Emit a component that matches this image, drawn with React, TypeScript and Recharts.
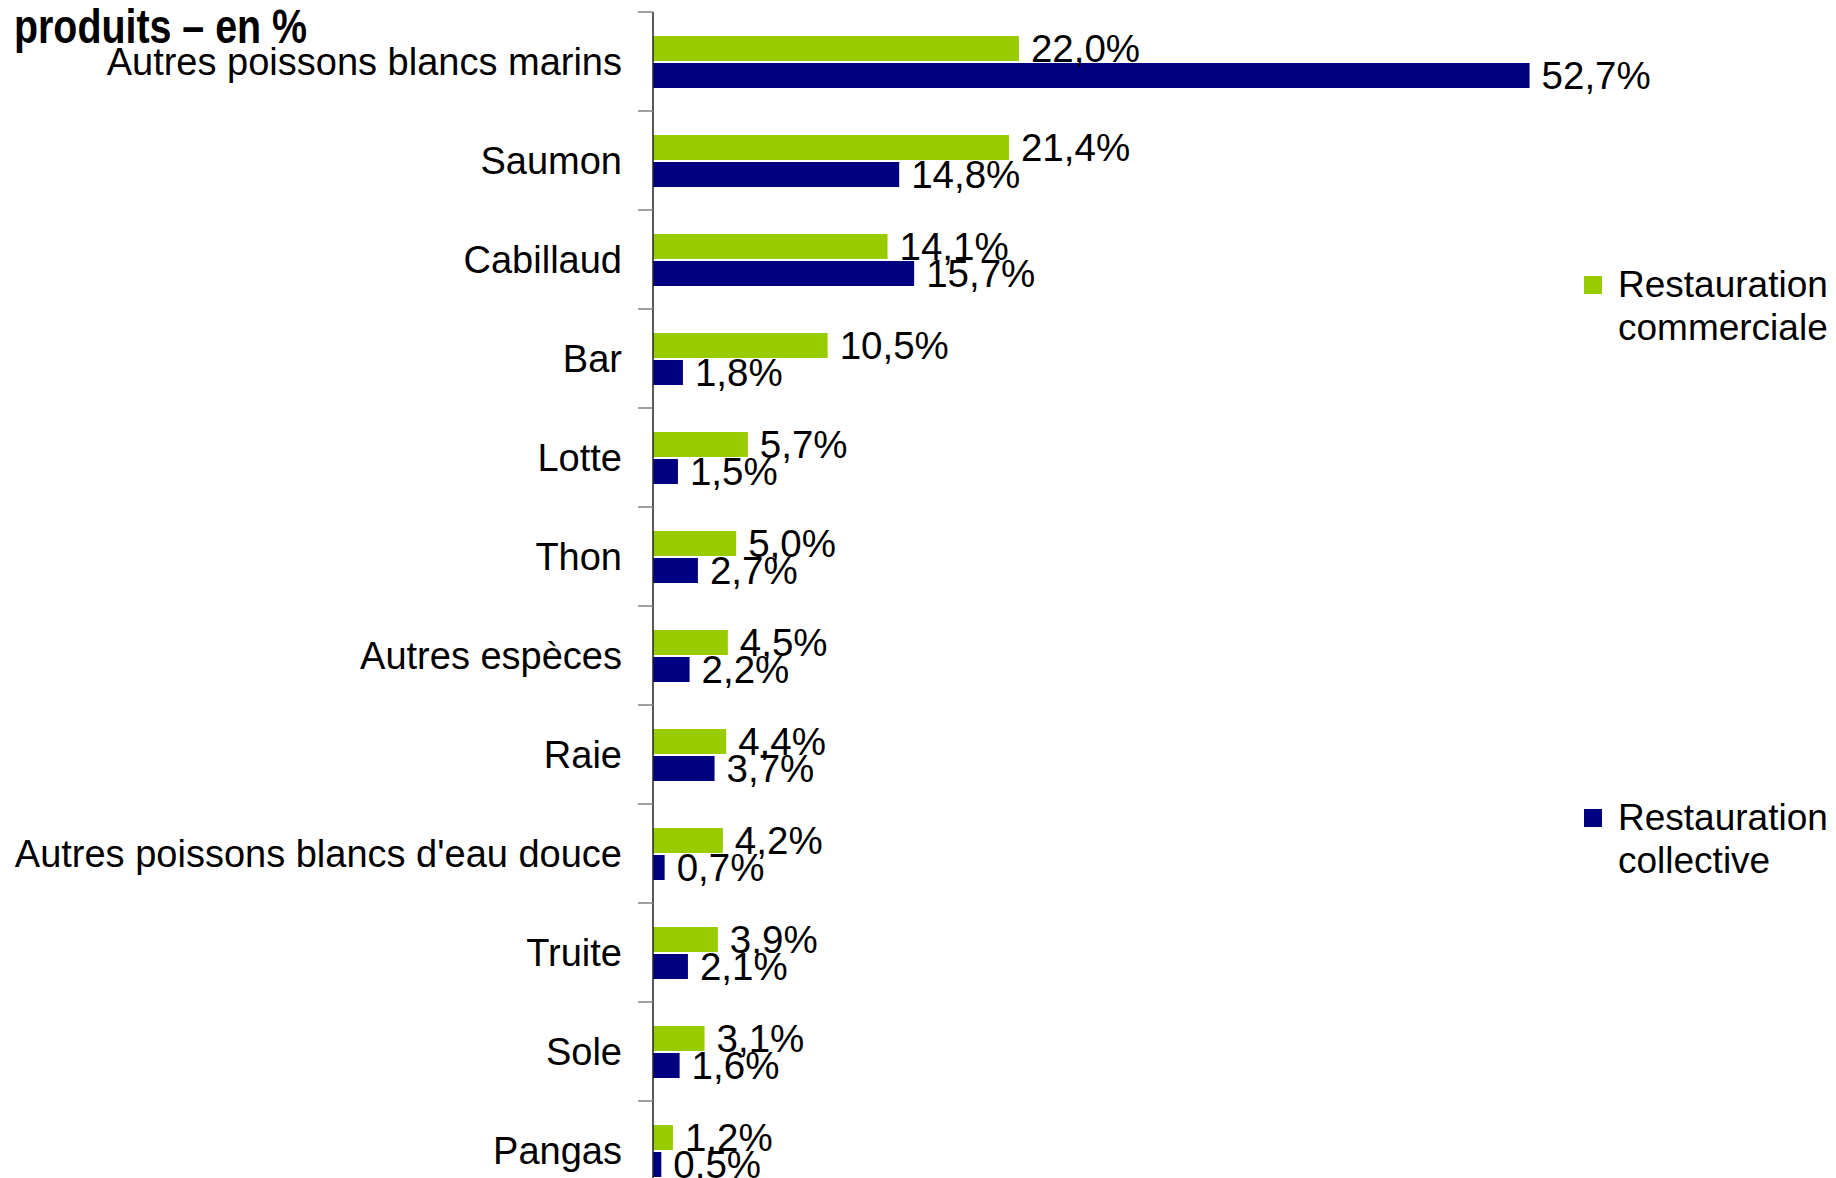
import { BarChart, Bar, XAxis, YAxis, LabelList } from "recharts"

// espèces, dans l'ordre du graphique (de haut en bas)
const categories = [
  "Autres poissons blancs marins",
  "Saumon",
  "Cabillaud",
  "Bar",
  "Lotte",
  "Thon",
  "Autres espèces",
  "Raie",
  "Autres poissons blancs d'eau douce",
  "Truite",
  "Sole",
  "Pangas",
]

const commerciale = [22.0, 21.4, 14.1, 10.5, 5.7, 5.0, 4.5, 4.4, 4.2, 3.9, 3.1, 1.2]
const collective = [52.7, 14.8, 15.7, 1.8, 1.5, 2.7, 2.2, 3.7, 0.7, 2.1, 1.6, 0.5]

const seriesNames = ["Restauration commerciale", "Restauration collective"]
const seriesColors = ["#99CC00", "#000080"]

const title = "produits – en %"

const data = categories.map((name, i) => ({
  name,
  commerciale: commerciale[i],
  collective: collective[i],
}))

const FONT = '"Liberation Sans", Arial, sans-serif'
const PLOT_TOP = 12
const PLOT_H = 1188
const LABEL_GAP = 31

const fmt = (v: any) => Number(v).toFixed(1).replace(".", ",") + "%"

function CategoryTick({ x, y, payload }: any) {
  const band = PLOT_H / categories.length
  return (
    <g>
      <line
        x1={x + LABEL_GAP - 15}
        x2={x + LABEL_GAP}
        y1={y - band / 2}
        y2={y - band / 2}
        stroke="#808080"
        strokeWidth={1.5}
      />
      <text
        x={x}
        y={y}
        textAnchor="end"
        dominantBaseline="central"
        fontSize={38}
        fontFamily={FONT}
        fill="#000"
      >
        {payload.value}
      </text>
    </g>
  )
}

export default function App() {
  return (
    <div
      style={{
        position: "fixed",
        top: 0,
        left: 0,
        width: 1836,
        height: 1178,
        overflow: "hidden",
        background: "#fff",
        fontFamily: FONT,
      }}
    >
      <div
        style={{
          position: "absolute",
          left: 14,
          top: 3,
          fontWeight: "bold",
          fontSize: 48,
          lineHeight: "48px",
          whiteSpace: "nowrap",
          color: "#000",
          transform: "scaleX(0.82)",
          transformOrigin: "left top",
        }}
      >
        {title}
      </div>

      <BarChart
        width={1836}
        height={1300}
        data={data}
        layout="vertical"
        margin={{ top: PLOT_TOP, right: 185, bottom: 100, left: 0 }}
        barSize={25}
        barGap={2}
      >
        <XAxis type="number" domain={[0, 60]} hide />
        <YAxis
          type="category"
          dataKey="name"
          width={653}
          tickSize={0}
          tickMargin={LABEL_GAP}
          tickLine={false}
          axisLine={{ stroke: "#222", strokeWidth: 1.5 }}
          tick={<CategoryTick />}
          interval={0}
        />
        <Bar dataKey="commerciale" fill={seriesColors[0]} isAnimationActive={false}>
          <LabelList
            dataKey="commerciale"
            position="right"
            offset={12}
            formatter={fmt}
            fill="#000"
            fontSize={38.5}
            fontFamily={FONT}
          />
        </Bar>
        <Bar dataKey="collective" fill={seriesColors[1]} isAnimationActive={false}>
          <LabelList
            dataKey="collective"
            position="right"
            offset={12}
            formatter={fmt}
            fill="#000"
            fontSize={38.5}
            fontFamily={FONT}
          />
        </Bar>
      </BarChart>

      {seriesNames.map((name, i) => {
        const sp = name.indexOf(" ")
        return (
          <div
            key={name}
            style={{
              position: "absolute",
              left: 1584,
              top: i === 0 ? 263 : 796,
              display: "flex",
              alignItems: "flex-start",
              fontSize: 37,
              lineHeight: "43px",
              whiteSpace: "nowrap",
              color: "#000",
            }}
          >
            <div
              style={{
                width: 18,
                height: 18,
                marginTop: 13,
                marginRight: 16,
                background: seriesColors[i],
              }}
            />
            <div>
              {name.slice(0, sp)}
              <br />
              {name.slice(sp + 1)}
            </div>
          </div>
        )
      })}
    </div>
  )
}
